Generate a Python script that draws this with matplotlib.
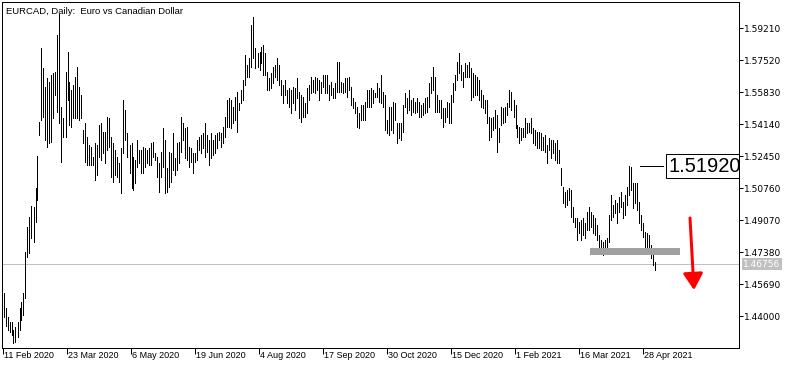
import matplotlib
matplotlib.use("Agg")
import matplotlib.pyplot as plt
import matplotlib.transforms as mtransforms
import numpy as np

# EURCAD daily bars, high / low
high = [
    1.4523, 1.4443, 1.4396, 1.4369, 1.4369, 1.4327, 1.4343, 1.4369, 1.4443, 1.4475,
    1.4523, 1.4739, 1.4871, 1.4924, 1.4982, 1.4977, 1.5077, 1.5246, 1.5426, 1.5816,
    1.5711, 1.5610, 1.5658, 1.5637, 1.5674, 1.5684, 1.5690, 1.5885, 1.5996, 1.5505,
    1.5447, 1.5690, 1.5795, 1.5637, 1.5595, 1.5621, 1.5663, 1.5716, 1.5610, 1.5568,
    1.5383, 1.5420, 1.5346, 1.5304, 1.5294, 1.5241, 1.5315, 1.5304, 1.5410, 1.5420,
    1.5373, 1.5373, 1.5452,
    1.5447, 1.5346, 1.5315, 1.5278, 1.5241, 1.5209, 1.5288, 1.5542, 1.5489, 1.5368,
    1.5304, 1.5315, 1.5241, 1.5225, 1.5331, 1.5278, 1.5278, 1.5294, 1.5288, 1.5278,
    1.5288, 1.5315, 1.5320, 1.5262, 1.5241, 1.5209, 1.5267, 1.5394, 1.5331, 1.5183,
    1.5267, 1.5262, 1.5368, 1.5235, 1.5315, 1.5320, 1.5452, 1.5420, 1.5394, 1.5399,
    1.5294, 1.5288, 1.5262, 1.5262, 1.5331, 1.5346, 1.5357, 1.5368, 1.5420, 1.5357,
    1.5331, 1.5368, 1.5331, 1.5357, 1.5368,
    1.5373, 1.5368, 1.5399, 1.5452, 1.5542, 1.5552, 1.5542, 1.5505, 1.5558, 1.5584,
    1.5526, 1.5595, 1.5647, 1.5780, 1.5727, 1.5764, 1.5938, 1.5980, 1.5816, 1.5790,
    1.5795, 1.5822, 1.5832, 1.5790, 1.5690, 1.5658, 1.5684, 1.5716, 1.5727, 1.5764,
    1.5727, 1.5647, 1.5621, 1.5647, 1.5595, 1.5605, 1.5595, 1.5610, 1.5605, 1.5658,
    1.5584, 1.5568, 1.5558, 1.5526, 1.5605, 1.5621, 1.5663, 1.5647, 1.5663, 1.5658,
    1.5647, 1.5637, 1.5674, 1.5674, 1.5674,
    1.5621, 1.5637, 1.5605, 1.5632, 1.5742, 1.5742, 1.5637, 1.5632, 1.5658, 1.5658,
    1.5663, 1.5610, 1.5552, 1.5531, 1.5505, 1.5473, 1.5515, 1.5515, 1.5531, 1.5595,
    1.5595, 1.5605, 1.5595, 1.5579, 1.5632, 1.5605, 1.5674, 1.5584, 1.5568, 1.5436,
    1.5505, 1.5505, 1.5531, 1.5526, 1.5420, 1.5420, 1.5420, 1.5515, 1.5579, 1.5552,
    1.5595, 1.5542, 1.5552, 1.5531, 1.5552, 1.5531, 1.5515, 1.5526, 1.5552, 1.5558,
    1.5632, 1.5663, 1.5716, 1.5663, 1.5568,
    1.5542, 1.5542, 1.5500, 1.5500, 1.5531, 1.5526, 1.5568, 1.5632, 1.5674, 1.5742,
    1.5790, 1.5727, 1.5690, 1.5737, 1.5727, 1.5742, 1.5711, 1.5684, 1.5674, 1.5663,
    1.5647, 1.5595, 1.5568, 1.5542, 1.5542, 1.5452, 1.5447, 1.5452, 1.5489, 1.5463,
    1.5394, 1.5505, 1.5500, 1.5505, 1.5526, 1.5595, 1.5584, 1.5542, 1.5515, 1.5410,
    1.5399, 1.5394, 1.5394, 1.5447, 1.5420, 1.5420, 1.5447, 1.5394, 1.5383, 1.5373,
    1.5373, 1.5368, 1.5346, 1.5357, 1.5304,
    1.5341, 1.5331, 1.5331, 1.5315, 1.5331, 1.5278, 1.5183, 1.5082, 1.5056, 1.5066,
    1.5077, 1.5066, 1.4977, 1.4919, 1.4919, 1.4897, 1.4908, 1.4919, 1.4892, 1.4950,
    1.4977, 1.4950, 1.4935, 1.4919, 1.4882, 1.4829, 1.4802, 1.4792, 1.4802, 1.4813,
    1.4935, 1.5040, 1.4987, 1.5014, 1.4998, 1.5029, 1.5056, 1.5003, 1.5040, 1.5082,
    1.5192, 1.5190, 1.5103, 1.5103, 1.5103, 1.5003, 1.4935, 1.4892, 1.4845, 1.4839,
    1.4829, 1.4776, 1.4750, 1.4686,
]
low = [
    1.4396, 1.4348, 1.4327, 1.4317, 1.4301, 1.4258, 1.4264, 1.4290, 1.4327, 1.4380,
    1.4406, 1.4496, 1.4713, 1.4734, 1.4813, 1.4792, 1.4897, 1.5014, 1.5357, 1.5436,
    1.5452, 1.5331, 1.5294, 1.5315, 1.5320, 1.5447, 1.5568, 1.5478, 1.5420, 1.5214,
    1.5346, 1.5346, 1.5542, 1.5410, 1.5399, 1.5447, 1.5447, 1.5447, 1.5436, 1.5447,
    1.5315, 1.5214, 1.5198, 1.5198, 1.5198, 1.5198, 1.5119, 1.5146, 1.5241, 1.5225,
    1.5262, 1.5209, 1.5278,
    1.5294, 1.5135, 1.5109, 1.5146, 1.5135, 1.5109, 1.5051, 1.5262, 1.5331, 1.5241,
    1.5156, 1.5077, 1.5066, 1.5103, 1.5188, 1.5209, 1.5156, 1.5156, 1.5188, 1.5209,
    1.5198, 1.5198, 1.5241, 1.5225, 1.5135, 1.5056, 1.5135, 1.5188, 1.5051, 1.5056,
    1.5082, 1.5109, 1.5172, 1.5146, 1.5172, 1.5209, 1.5267, 1.5331, 1.5235, 1.5225,
    1.5188, 1.5214, 1.5156, 1.5214, 1.5225, 1.5278, 1.5262, 1.5288, 1.5241, 1.5267,
    1.5198, 1.5235, 1.5251, 1.5262, 1.5288,
    1.5331, 1.5294, 1.5315, 1.5346, 1.5399, 1.5399, 1.5394, 1.5420, 1.5436, 1.5373,
    1.5489, 1.5526, 1.5542, 1.5621, 1.5663, 1.5663, 1.5716, 1.5764, 1.5711, 1.5716,
    1.5700, 1.5737, 1.5674, 1.5674, 1.5595, 1.5595, 1.5605, 1.5632, 1.5663, 1.5647,
    1.5621, 1.5568, 1.5526, 1.5568, 1.5526, 1.5505, 1.5473, 1.5526, 1.5489, 1.5552,
    1.5447, 1.5426, 1.5452, 1.5452, 1.5473, 1.5542, 1.5579, 1.5584, 1.5579, 1.5595,
    1.5542, 1.5579, 1.5610, 1.5579, 1.5579,
    1.5542, 1.5568, 1.5552, 1.5552, 1.5584, 1.5584, 1.5584, 1.5579, 1.5584, 1.5558,
    1.5595, 1.5515, 1.5500, 1.5473, 1.5399, 1.5394, 1.5436, 1.5436, 1.5436, 1.5505,
    1.5505, 1.5505, 1.5526, 1.5558, 1.5558, 1.5531, 1.5526, 1.5505, 1.5383, 1.5368,
    1.5357, 1.5383, 1.5368, 1.5436, 1.5315, 1.5341, 1.5331, 1.5373, 1.5505, 1.5473,
    1.5489, 1.5463, 1.5478, 1.5473, 1.5478, 1.5452, 1.5452, 1.5463, 1.5473, 1.5478,
    1.5505, 1.5579, 1.5595, 1.5478, 1.5478,
    1.5478, 1.5447, 1.5399, 1.5426, 1.5452, 1.5420, 1.5420, 1.5531, 1.5595, 1.5647,
    1.5684, 1.5647, 1.5610, 1.5663, 1.5663, 1.5663, 1.5542, 1.5558, 1.5568, 1.5568,
    1.5542, 1.5505, 1.5500, 1.5473, 1.5420, 1.5331, 1.5346, 1.5383, 1.5394, 1.5267,
    1.5320, 1.5410, 1.5420, 1.5426, 1.5463, 1.5505, 1.5489, 1.5452, 1.5394, 1.5346,
    1.5315, 1.5331, 1.5346, 1.5346, 1.5368, 1.5373, 1.5368, 1.5315, 1.5304, 1.5288,
    1.5288, 1.5278, 1.5278, 1.5267, 1.5209,
    1.5278, 1.5235, 1.5262, 1.5225, 1.5209, 1.5209, 1.5093, 1.4998, 1.4977, 1.4987,
    1.5014, 1.4924, 1.4897, 1.4871, 1.4802, 1.4839, 1.4802, 1.4829, 1.4813, 1.4855,
    1.4855, 1.4871, 1.4839, 1.4829, 1.4802, 1.4765, 1.4734, 1.4723, 1.4739, 1.4750,
    1.4792, 1.4908, 1.4924, 1.4945, 1.4892, 1.4950, 1.4977, 1.4919, 1.4935, 1.4987,
    1.5040, 1.5066, 1.4971, 1.4998, 1.4961, 1.4892, 1.4855, 1.4818, 1.4760, 1.4760,
    1.4760, 1.4707, 1.4670, 1.4644,
]

date_labels = ["11 Feb 2020", "23 Mar 2020", "6 May 2020", "19 Jun 2020", "4 Aug 2020",
               "17 Sep 2020", "30 Oct 2020", "15 Dec 2020", "1 Feb 2021", "16 Mar 2021",
               "28 Apr 2021"]
date_every = 32            # bars between date labels
price_ticks = [1.59210, 1.57520, 1.55830, 1.54140, 1.52450, 1.50760,
               1.49070, 1.47380, 1.45690, 1.44000]
last_price = 1.46756
mark_price = 1.51920
zone = (1.47232, 1.47618)  # grey support band
zone_bars = (293.25, 338.25)
arrow_from = (343.25, 1.4919)
arrow_to = (345.25, 1.4538)

title = "EURCAD, Daily:  Euro vs Canadian Dollar"

px = 1 / 100 * 72  # one pixel in points
W, H = 791, 369
fig = plt.figure(figsize=(W / 100, H / 100), dpi=100)
fig.patch.set_facecolor("white")
ax = fig.add_axes([2 / W, 21 / H, 737 / W, 346 / H])

n = len(high)
idx = np.arange(n)
ax.vlines(idx, low, high, colors="black", linewidth=px, antialiased=False)

ax.set_xlim(-0.75, 367.75)
ax.set_ylim(1.42320, 1.60593)

# frame
for s in ax.spines.values():
    s.set_linewidth(px)
    s.set_color("black")
    s.set_zorder(6)

# price axis on the right
ax.yaxis.tick_right()
ax.set_yticks(price_ticks)
ax.set_yticklabels(["%.5f" % p for p in price_ticks])
ax.tick_params(axis="y", direction="out", length=4 * px, width=px, pad=0.6 * px,
               labelsize=6.5)
for lbl in ax.get_yticklabels():
    lbl.set_family(["Liberation Sans Narrow", "DejaVu Sans"])

# date axis
xt = [k * date_every - 0.4 for k in range(len(date_labels))]
ax.set_xticks(xt)
ax.set_xticklabels(date_labels, ha="left")
ax.tick_params(axis="x", direction="out", length=6 * px, width=px, pad=-3 * px,
               labelsize=6.5)
for lbl in ax.get_xticklabels():
    lbl.set_family(["Liberation Sans", "DejaVu Sans"])
    lbl.set_transform(lbl.get_transform() + mtransforms.ScaledTranslation(1.5 / 100, 0, fig.dpi_scale_trans))

# title
ax.text(4 / 737, 1 - 5 / 346, title, transform=ax.transAxes, ha="left", va="top",
        fontsize=6.8, family=["Liberation Sans", "DejaVu Sans"])

# current price line and label
ax.axhline(last_price, color="#c0c0c0", linewidth=px, zorder=1)
ax.annotate("%.5f" % last_price, xy=(1, last_price), xycoords=("axes fraction", "data"),
            xytext=(4 * px, 0), textcoords="offset points", ha="left", va="center",
            fontsize=6.5, color="white", family=["Liberation Sans Narrow", "DejaVu Sans"],
            bbox=dict(boxstyle="square,pad=0.15", fc="#c0c0c0", ec="none"),
            annotation_clip=False)

# support band
ax.fill_between(zone_bars, zone[0], zone[1], color="#a0a0a0", linewidth=0, zorder=3)

# high marker with label
ax.plot([318.25, 329.75], [mark_price, mark_price], color="black", linewidth=px, zorder=4)
ax.text(332.5, mark_price, "%.5f" % mark_price, ha="left", va="center", fontsize=14.5,
        family=["Liberation Sans", "DejaVu Sans"], clip_on=True, zorder=5,
        bbox=dict(boxstyle="square,pad=0.12", fc="white", ec="black", lw=px))

# red arrow
ax.annotate("", xy=arrow_to, xytext=arrow_from,
            arrowprops=dict(arrowstyle="-|>,head_length=0.5,head_width=0.3",
                            color="#ff0000", lw=3 * px, mutation_scale=20,
                            shrinkA=0, shrinkB=0), zorder=6)

fig.savefig("out.png", dpi=100, facecolor="white")
